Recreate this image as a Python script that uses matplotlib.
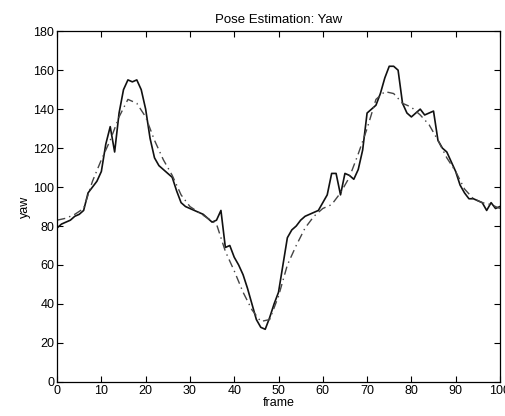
import matplotlib.pyplot as plt
import numpy as np

frames = np.arange(0, 101)

# measured yaw per frame
yaw_measured = [
    79, 81, 82, 83, 85, 86, 88, 97, 100, 103,
    108, 122, 131, 118, 138, 150, 155, 154, 155, 150,
    140, 125, 115, 111, 109, 107, 105, 98, 92, 90,
    89, 88, 87, 86, 84, 82, 83, 88, 69, 70,
    64, 60, 55, 48, 40, 32, 28, 27, 33, 40,
    46, 60, 74, 78, 80, 83, 85, 86, 87, 88,
    92, 96, 107, 107, 96, 107, 106, 104, 109, 119,
    138, 140, 142, 148, 156, 162, 162, 160, 143, 138,
    136, 138, 140, 137, 138, 139, 124, 120, 118, 113,
    108, 101, 97, 94, 94, 93, 92, 88, 92, 89,
    90,
]

# estimated yaw, sampled every two frames
est_frames = np.arange(0, 101, 2)
yaw_estimated = [
    83, 84, 86, 89, 103, 114, 124, 136, 145, 143,
    136, 124, 114, 106, 96, 90, 87, 84, 81, 67,
    57, 46, 37, 31, 32, 44, 60, 70, 79, 85,
    89, 91, 97, 105, 117, 130, 145, 149, 148, 143,
    141, 137, 132, 124, 115, 108, 99, 94, 92, 91,
    89,
]

xticks = np.arange(0, 101, 10)
yticks = np.arange(0, 181, 20)

plt.rcParams['font.family'] = ['Liberation Sans', 'DejaVu Sans']

fig = plt.figure(figsize=(5.05, 4.16), dpi=100)
ax = fig.add_axes([0.113, 0.082, 0.877, 0.843])

ax.plot(frames, yaw_measured, color="#111111", linewidth=1.2)
ax.plot(est_frames, yaw_estimated, color="#444444", linewidth=1.0,
        linestyle=(0, (6, 3, 1, 3)))

ax.set_xlim(0, 100)
ax.set_ylim(0, 180)
ax.set_xticks(xticks)
ax.set_yticks(yticks)

ax.tick_params(direction="in", length=4, width=0.8, top=True, right=True,
               labelsize=9, pad=2)
for side in ax.spines.values():
    side.set_linewidth(0.9)

ax.set_title("Pose Estimation: Yaw", fontsize=9.5, pad=6)
ax.set_xlabel("frame", fontsize=9, labelpad=0)
ax.set_ylabel("yaw", fontsize=9, labelpad=2)

fig.savefig("out.png", dpi=100)
